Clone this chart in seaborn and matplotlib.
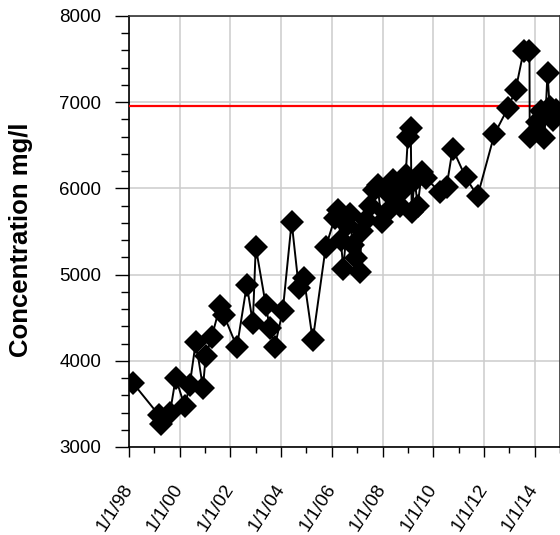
import matplotlib
matplotlib.use("Agg")
import matplotlib.pyplot as plt
import matplotlib.dates as mdates
from matplotlib.ticker import MultipleLocator, FuncFormatter
import pandas as pd
import seaborn as sns

dates = [
    "1998-03-01", "1999-03-08", "1999-04-05", "1999-08-15", "1999-11-05",
    "2000-03-15", "2000-05-25", "2000-08-20", "2000-12-01", "2001-01-10",
    "2001-04-08", "2001-08-05", "2001-09-28", "2002-04-05", "2002-08-25",
    "2002-11-20", "2003-01-01", "2003-05-25", "2003-07-22", "2003-10-01",
    "2004-01-25", "2004-06-01", "2004-09-12", "2004-11-25", "2005-04-01",
    "2005-10-05", "2006-02-15", "2006-03-28", "2006-05-10", "2006-06-15",
    "2006-08-10", "2006-09-15", "2006-10-28", "2006-12-15", "2007-02-05",
    "2007-03-08", "2007-05-05", "2007-07-01", "2007-08-28", "2007-10-22",
    "2007-12-20", "2008-02-15", "2008-04-15", "2008-05-25", "2008-07-25",
    "2008-09-05", "2008-10-20", "2008-11-30", "2009-01-01", "2009-02-10",
    "2009-02-25", "2009-04-08", "2009-05-22", "2009-07-20", "2009-09-12",
    "2010-04-05", "2010-07-12", "2010-10-08", "2011-04-12", "2011-10-01",
    "2012-06-01", "2012-12-10", "2013-04-01", "2013-07-25", "2013-10-18",
    "2013-10-22", "2014-01-28", "2014-03-28", "2014-05-22", "2014-07-05",
    "2014-08-05", "2014-09-18", "2014-10-30",
]
concentration = [
    3740, 3370, 3270, 3400, 3800,
    3470, 3720, 4220, 3690, 4050,
    4280, 4640, 4530, 4160, 4880,
    4440, 5320, 4650, 4380, 4160,
    4580, 5610, 4850, 4960, 4240,
    5320, 5660, 5750, 5400, 5070,
    5580, 5700, 5340, 5190, 5030,
    5500, 5630, 5800, 5980, 6040,
    5610, 5720, 5920, 6100, 6040,
    5800, 5980, 6150, 6600, 6700,
    5730, 6100, 5800, 6190, 6120,
    5960, 6020, 6460, 6130, 5910,
    6630, 6930, 7140, 7590, 7590,
    6600, 6770, 6900, 6590, 7340,
    6940, 6790, 6910,
]
limit_value = 6960

df = pd.DataFrame({"date": pd.to_datetime(dates), "conc": concentration})

sns.set_theme(style="white")
plt.rcParams["font.family"] = ["Liberation Sans", "DejaVu Sans"]

fig = plt.figure(figsize=(5.6, 5.35), dpi=100)
ax = fig.add_axes([129 / 560, 88 / 535, 431 / 560, 431 / 535])

ax.axhline(limit_value, color="red", lw=1.6, zorder=3)
sns.lineplot(data=df, x="date", y="conc", ax=ax, color="black", lw=1.4,
             marker="D", markersize=12, markeredgewidth=0, estimator=None,
             sort=False, zorder=4)

ax.set_xlim(pd.Timestamp("1998-01-01"), pd.Timestamp("2015-01-01"))
ax.set_ylim(3000, 8000)
ax.xaxis.set_major_locator(mdates.YearLocator(2))
ax.xaxis.set_minor_locator(mdates.YearLocator(1))
ax.xaxis.set_major_formatter(FuncFormatter(
    lambda v, _: (lambda d: f"{d.month}/{d.day}/{d:%y}")(mdates.num2date(v))))
ax.yaxis.set_major_locator(MultipleLocator(1000))
ax.yaxis.set_minor_locator(MultipleLocator(200))

ax.grid(True, which="major", color="#cccccc", lw=1.1)
for s in ax.spines.values():
    s.set_color("#333333")
    s.set_linewidth(1.2)
ax.spines["left"].set_color("black")
ax.spines["bottom"].set_color("black")

ax.tick_params(axis="y", which="major", direction="out", length=10, width=1,
               color="black", labelcolor="black", labelsize=13.5, pad=10,
               left=True)
ax.tick_params(axis="y", which="minor", direction="out", length=6, width=1,
               color="black", left=True)
ax.tick_params(axis="x", which="major", direction="out", length=7, width=1,
               color="black", labelcolor="black", labelsize=13.5, pad=21,
               bottom=True)
ax.tick_params(axis="x", which="minor", direction="out", length=4.5, width=1,
               color="black", bottom=True)
for lab in ax.get_xticklabels():
    lab.set_rotation(57)
    lab.set_ha("right")
    lab.set_va("center")
    lab.set_rotation_mode("anchor")

ax.set_xlabel("")
ax.set_ylabel("Concentration mg/l", fontsize=18.5, fontweight="bold",
              color="black")
ax.yaxis.set_label_coords(-0.222, 0.48)

fig.savefig("out.png", dpi=100)
